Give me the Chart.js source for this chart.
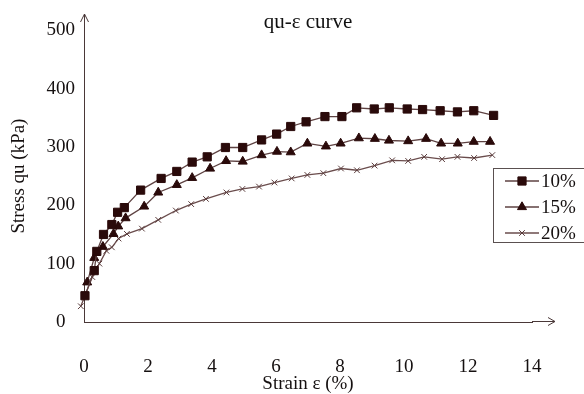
<!DOCTYPE html>
<html><head><meta charset="utf-8">
<script src="https://cdn.jsdelivr.net/npm/chart.js@4"></script>
<style>html,body{margin:0;padding:0;background:#fff}#wrap{width:584px;height:394px}</style>
</head><body><div id="wrap"><canvas id="c" width="584" height="394"></canvas></div>
<script>
const seriesLabels = ['10%', '15%', '20%'];
const strain10 = [0.03,0.32,0.40,0.61,0.87,1.05,1.26,1.77,2.41,2.90,3.38,3.85,4.42,4.96,5.55,6.02,6.46,6.94,7.53,8.06,8.52,9.07,9.54,10.10,10.58,11.13,11.67,12.18,12.80];
const stress10 = [45,88,121,150,167,188,196,226,246,258,274,283,299,299,312,322,335,343,352,352,367,365,367,365,364,362,360,362,354];
const strain15 = [0.10,0.32,0.59,0.92,1.07,1.30,1.88,2.32,2.90,3.38,3.94,4.44,4.96,5.55,6.03,6.46,6.98,7.56,8.02,8.59,9.09,9.53,10.13,10.69,11.16,11.68,12.18,12.69];
const stress15 = [68,110,129,151,164,178,198,222,235,247,263,276,275,286,292,291,306,301,306,315,314,311,310,314,306,306,309,309];
const strain20 = [-0.1,0.26,0.48,0.70,0.87,1.08,1.34,1.81,2.32,2.87,3.35,3.81,4.45,4.95,5.47,5.95,6.49,6.98,7.48,8.03,8.53,9.08,9.63,10.13,10.63,11.19,11.67,12.19,12.76];
const stress20 = [27,77,100,122,128,143,151,160,175,191,202,211,222,228,232,239,246,252,255,263,260,268,277,276,283,279,283,281,286];
const xTicks = [0, 2, 4, 6, 8, 10, 12, 14];
const yTicks = [0, 100, 200, 300, 400, 500];
const chartTitle = 'qu-ε curve';
const xTitle = 'Strain ε (%)';
const yTitle = 'Stress qu (kPa)';

const FONT = 'Liberation Serif';
const AXIS = '#4a3838';
const LINE = '#5e4242';
const MARK = '#2a0a0a';
const TEXT = '#151010';

function pts(xs, ys) { return xs.map((x, i) => ({x: x, y: ys[i]})); }

const styles = [
  {pointStyle: 'rect', pointRadius: 5.8, color: MARK, line: LINE},
  {pointStyle: 'triangle', pointRadius: 5.2, color: MARK, line: LINE},
  {pointStyle: 'crossRot', pointRadius: 4, color: '#5a3c3c', line: '#6a4c4c'}
];
const seriesData = [pts(strain10, stress10), pts(strain15, stress15), pts(strain20, stress20)];

const datasets = seriesLabels.map((lab, i) => ({
  label: lab,
  data: seriesData[i],
  showLine: true,
  borderColor: styles[i].line,
  borderWidth: 1.3,
  pointStyle: styles[i].pointStyle,
  pointRadius: styles[i].pointRadius,
  pointBackgroundColor: styles[i].color,
  pointBorderColor: styles[i].color,
  pointBorderWidth: 1,
  clip: false,
  tension: 0
}));

const extras = {
  id: 'extras',
  afterDraw(chart) {
    const ctx = chart.ctx, a = chart.chartArea;
    ctx.save();
    ctx.strokeStyle = AXIS; ctx.lineWidth = 1;
    const lx = Math.round(a.left) + 0.5, by = Math.round(a.bottom) - 0.5;
    ctx.beginPath();
    ctx.moveTo(lx, a.top); ctx.lineTo(lx, 14);
    ctx.moveTo(lx - 4, 22); ctx.lineTo(lx, 14); ctx.lineTo(lx + 4, 22);
    ctx.moveTo(a.right, by); ctx.lineTo(555, by);
    ctx.moveTo(548, by - 4); ctx.lineTo(555, by); ctx.lineTo(548, by + 4);
    ctx.stroke();
    // legend
    const bx = 493.5, bt = 168.5, bw = 100, bh = 74;
    ctx.fillStyle = '#fff';
    ctx.fillRect(bx, bt, bw, bh);
    ctx.strokeStyle = '#5a5050';
    ctx.strokeRect(bx, bt, bw, bh);
    const rows = [181, 207, 233];
    chart.data.datasets.forEach((ds, i) => {
      const y = rows[i];
      ctx.strokeStyle = ds.borderColor; ctx.lineWidth = 1.3;
      ctx.beginPath(); ctx.moveTo(505, y); ctx.lineTo(539, y); ctx.stroke();
      ctx.fillStyle = ds.pointBackgroundColor; ctx.strokeStyle = ds.pointBorderColor; ctx.lineWidth = 1;
      Chart.helpers.drawPoint(ctx, {pointStyle: ds.pointStyle, radius: ds.pointRadius, rotation: 0, borderWidth: 1}, 522, y);
      ctx.fillStyle = TEXT;
      ctx.font = '19px "' + FONT + '"';
      ctx.textBaseline = 'middle'; ctx.textAlign = 'left';
      ctx.fillText(ds.label, 541, y + 1);
    });
    ctx.restore();
  }
};

new Chart(document.getElementById('c'), {
  type: 'scatter',
  data: {datasets: datasets},
  options: {
    responsive: false,
    devicePixelRatio: 1,
    animation: false,
    layout: {padding: {left: 0, right: 52, top: 0, bottom: 0}},
    plugins: {
      legend: {display: false},
      tooltip: {enabled: false},
      title: {
        display: true, text: chartTitle, fullSize: false, color: '#111',
        font: {family: FONT, size: 21, weight: 'normal'},
        padding: {top: 10, bottom: -5}
      }
    },
    scales: {
      x: {
        type: 'linear', min: 0, max: 14,
        afterBuildTicks: s => { s.ticks = xTicks.map(v => ({value: v})); },
        afterFit: s => { s.height = 72; },
        grid: {display: false, drawTicks: false},
        border: {display: true, color: AXIS, width: 1},
        ticks: {color: TEXT, padding: 34, maxRotation: 0, font: {family: FONT, size: 19}},
        title: {display: true, text: xTitle, color: TEXT, padding: {top: 0, bottom: -1}, font: {family: FONT, size: 19}}
      },
      y: {
        type: 'linear', min: 0, max: 500,
        afterBuildTicks: s => { s.ticks = yTicks.map(v => ({value: v})); },
        afterFit: s => { s.width = 84; },
        grid: {display: false, drawTicks: false},
        border: {display: true, color: AXIS, width: 1},
        ticks: {color: TEXT, padding: 9, crossAlign: 'center', font: {family: FONT, size: 19}},
        title: {display: true, text: yTitle, color: TEXT, padding: {top: 7.5, bottom: 0}, font: {family: FONT, size: 19}}
      }
    }
  },
  plugins: [extras]
});
</script></body></html>
